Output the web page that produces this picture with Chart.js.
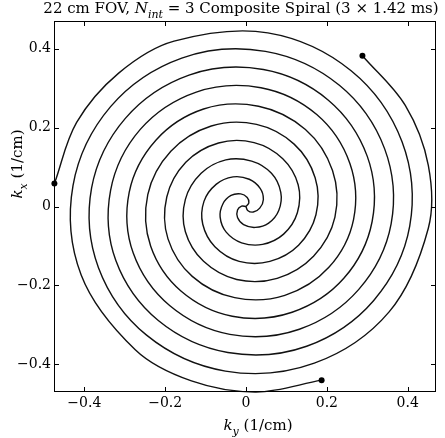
<!DOCTYPE html>
<html>
<head>
<meta charset="utf-8">
<script src="https://cdn.jsdelivr.net/npm/chart.js@4.4.1/dist/chart.umd.min.js"></script>
<style>
  html, body { margin: 0; padding: 0; background: #fff; }
</style>
</head>
<body>
<canvas id="spiralChart" width="445" height="438"></canvas>
<script>
const armA_ky = [0, 0.004, 0.018, 0.034, 0.043, 0.035, 0.008, -0.032, -0.074, -0.104, -0.107, -0.077, -0.017, 0.059, 0.130, 0.173, 0.171, 0.119, 0.026, -0.086, -0.186, -0.243, -0.236, -0.161, -0.034, 0.114, 0.242, 0.312, 0.300, 0.203, 0.043, -0.141, -0.298, -0.382, -0.365, -0.246, -0.051, 0.169, 0.354, 0.451, 0.451, 0.394, 0.288];
const armA_kx = [0, -0.010, -0.014, -0.004, 0.018, 0.046, 0.069, 0.075, 0.056, 0.013, -0.045, -0.102, -0.139, -0.139, -0.098, -0.021, 0.073, 0.158, 0.208, 0.204, 0.140, 0.030, -0.100, -0.214, -0.278, -0.268, -0.182, -0.038, 0.127, 0.270, 0.347, 0.333, 0.224, 0.047, -0.155, -0.326, -0.417, -0.397, -0.267, -0.055, 0.104, 0.256, 0.382];

const armB_ky = [0, 0.007, 0.003, -0.013, -0.037, -0.057, -0.064, -0.049, -0.011, 0.041, 0.093, 0.127, 0.129, 0.091, 0.020, -0.068, -0.149, -0.196, -0.193, -0.133, -0.028, 0.096, 0.205, 0.266, 0.257, 0.175, 0.037, -0.123, -0.261, -0.335, -0.322, -0.217, -0.045, 0.150, 0.316, 0.405, 0.386, 0.260, 0.054, -0.178, -0.315, -0.419, -0.474];
const armB_kx = [0, 0.009, 0.023, 0.032, 0.028, 0.007, -0.027, -0.065, -0.092, -0.096, -0.070, -0.016, 0.055, 0.121, 0.162, 0.161, 0.112, 0.024, -0.082, -0.177, -0.231, -0.225, -0.154, -0.033, 0.109, 0.233, 0.301, 0.290, 0.196, 0.041, -0.137, -0.289, -0.370, -0.354, -0.238, -0.050, 0.164, 0.344, 0.440, 0.419, 0.338, 0.213, 0.058];

const armC_ky = [0, -0.011, -0.021, -0.021, -0.006, 0.023, 0.056, 0.081, 0.086, 0.063, 0.014, -0.050, -0.111, -0.150, -0.150, -0.105, -0.023, 0.077, 0.167, 0.220, 0.214, 0.147, 0.031, -0.105, -0.223, -0.289, -0.279, -0.189, -0.040, 0.132, 0.279, 0.359, 0.343, 0.231, 0.048, -0.159, -0.335, -0.428, -0.408, -0.274, -0.135, 0.025, 0.187];
const armC_kx = [0, 0.001, -0.009, -0.028, -0.046, -0.053, -0.042, -0.010, 0.036, 0.084, 0.115, 0.118, 0.084, 0.018, -0.064, -0.139, -0.185, -0.182, -0.126, -0.027, 0.091, 0.195, 0.254, 0.247, 0.168, 0.036, -0.118, -0.251, -0.324, -0.311, -0.210, -0.044, 0.146, 0.307, 0.393, 0.376, 0.253, 0.053, -0.173, -0.363, -0.442, -0.470, -0.440];

const tickValues = [-0.4, -0.2, 0, 0.2, 0.4];
const tickLabels = ['\u22120.4', '\u22120.2', '0', '0.2', '0.4'];

const SERIF = '"DejaVu Serif", "Liberation Serif", serif';
const TICK = 5;

function toPoints(kys, kxs) {
  return kys.map((v, i) => ({ x: v, y: kxs[i] }));
}

function armDataset(kys, kxs) {
  return {
    data: toPoints(kys, kxs),
    showLine: true,
    borderColor: '#111',
    borderWidth: 1.4,
    tension: 0.35,
    capBezierPoints: false,
    fill: false,
    clip: false,
    pointRadius: c => (c.dataIndex === c.dataset.data.length - 1 ? 3 : 0),
    pointBackgroundColor: '#000',
    pointBorderWidth: 0
  };
}

// draw a run of text pieces (some italic / subscript) starting at x
function drawRich(ctx, parts, x, y, size, align) {
  const fontOf = p => (p.italic ? 'italic ' : '') + (p.sub ? Math.round(size * 0.72) : size) + 'px ' + SERIF;
  let total = 0;
  parts.forEach(p => { ctx.font = fontOf(p); total += ctx.measureText(p.t).width; });
  let cx = align === 'center' ? x - total / 2 : x;
  ctx.textAlign = 'left';
  ctx.textBaseline = 'alphabetic';
  parts.forEach(p => {
    ctx.font = fontOf(p);
    ctx.fillText(p.t, cx, y + (p.sub ? size * 0.3 : 0));
    cx += ctx.measureText(p.t).width;
  });
}

const frameAndText = {
  id: 'frameAndText',
  afterDraw(chart) {
    const { ctx, chartArea: a, scales } = chart;
    ctx.save();
    ctx.strokeStyle = '#000';
    ctx.lineWidth = 1;
    ctx.strokeRect(a.left + 0.5, a.top + 0.5, a.right - a.left - 1, a.bottom - a.top - 1);
    ctx.beginPath();
    tickValues.forEach(v => {
      const px = Math.round(scales.x.getPixelForValue(v)) + 0.5;
      ctx.moveTo(px, a.bottom); ctx.lineTo(px, a.bottom - TICK);
      ctx.moveTo(px, a.top); ctx.lineTo(px, a.top + TICK);
      const py = Math.round(scales.y.getPixelForValue(v)) + 0.5;
      ctx.moveTo(a.left, py); ctx.lineTo(a.left + TICK, py);
      ctx.moveTo(a.right, py); ctx.lineTo(a.right - TICK, py);
    });
    ctx.stroke();

    ctx.fillStyle = '#000';
    drawRich(ctx, [
      { t: '22 cm FOV, ' },
      { t: 'N', italic: true },
      { t: 'int', italic: true, sub: true },
      { t: ' = 3 Composite Spiral (3 \u00d7 1.42 ms)' }
    ], 241, 13, 15, 'center');

    drawRich(ctx, [
      { t: 'k', italic: true },
      { t: 'y', italic: true, sub: true },
      { t: ' (1/cm)' }
    ], 258, 430, 15, 'center');

    ctx.translate(22, 164);
    ctx.rotate(-Math.PI / 2);
    drawRich(ctx, [
      { t: 'k', italic: true },
      { t: 'x', italic: true, sub: true },
      { t: ' (1/cm)' }
    ], 0, 0, 15, 'center');
    ctx.restore();
  }
};

function axis(min, max, size, pad, isX) {
  return {
    type: 'linear',
    min: min,
    max: max,
    grid: { display: false, drawTicks: false },
    border: { display: false },
    afterBuildTicks: s => { s.ticks = tickValues.map(v => ({ value: v })); },
    afterFit: s => { if (isX) s.height = size; else s.width = size; },
    ticks: {
      padding: pad,
      color: '#000',
      font: { family: SERIF, size: 14 },
      callback: (v, i) => tickLabels[i]
    }
  };
}

new Chart(document.getElementById('spiralChart'), {
  type: 'scatter',
  data: {
    datasets: [
      armDataset(armA_ky, armA_kx),
      armDataset(armB_ky, armB_kx),
      armDataset(armC_ky, armC_kx)
    ]
  },
  options: {
    responsive: false,
    animation: false,
    events: [],
    layout: { padding: { top: 21, right: 9, left: 0, bottom: 0 } },
    plugins: { legend: { display: false }, tooltip: { enabled: false } },
    scales: {
      x: axis(-0.475, 0.47, 46, 3, true),
      y: axis(-0.47, 0.47, 54, 3, false)
    }
  },
  plugins: [frameAndText]
});
</script>
</body>
</html>
